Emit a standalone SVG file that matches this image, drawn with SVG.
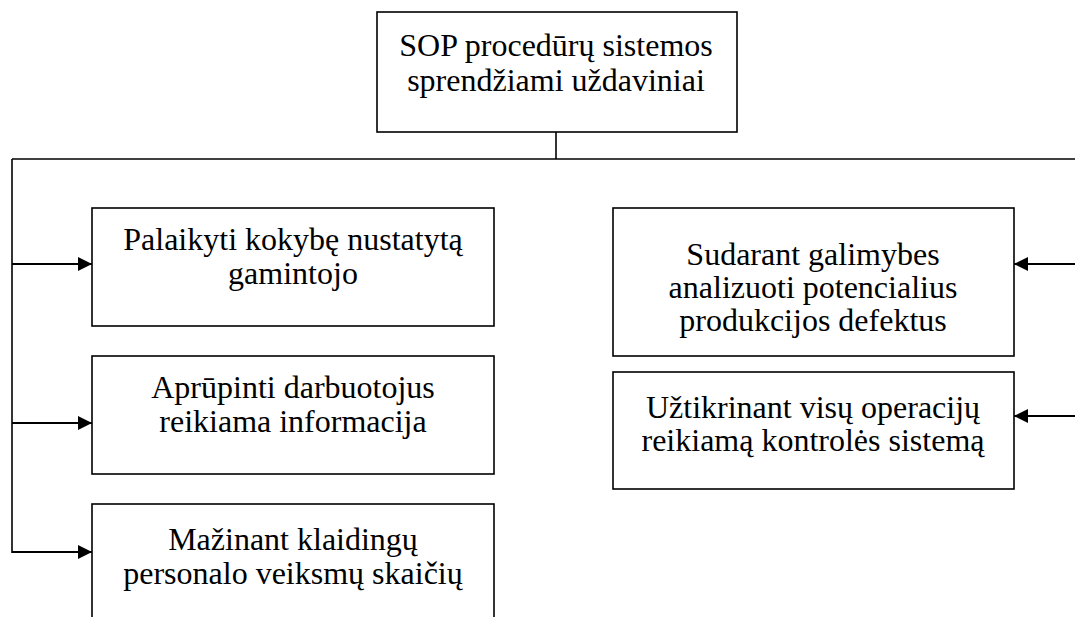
<svg xmlns="http://www.w3.org/2000/svg" width="1075" height="617" viewBox="0 0 1075 617">
  <style>
    .box { fill: #ffffff; stroke: #000000; stroke-width: 1.6; }
    .lbl { font-family: "Liberation Serif", "Times New Roman", serif; font-size: 32px; fill: #000000; text-anchor: middle; }
    .wire { fill: none; stroke: #000000; stroke-width: 1.6; }
    .arr { fill: none; stroke: #000000; stroke-width: 2; }
  </style>
  <defs>
    <marker id="ah" viewBox="0 0 10 10" refX="10" refY="5" markerUnits="userSpaceOnUse" markerWidth="15" markerHeight="14" orient="auto">
      <path d="M0,0 L10,5 L0,10 Z" fill="#000000"/>
    </marker>
  </defs>
  <rect width="1075" height="617" fill="#ffffff"/>

  <g id="connectors">
    <line class="wire" x1="556" y1="132" x2="556" y2="159"/>
    <line class="wire" x1="12" y1="159" x2="1075" y2="159"/>
    <line class="wire" x1="12" y1="159" x2="12" y2="553"/>
    <line class="arr" x1="12" y1="264" x2="92" y2="264" marker-end="url(#ah)"/>
    <line class="arr" x1="12" y1="423" x2="92" y2="423" marker-end="url(#ah)"/>
    <line class="arr" x1="12" y1="552" x2="92" y2="552" marker-end="url(#ah)"/>
    <line class="arr" x1="1075" y1="264" x2="1014" y2="264" marker-end="url(#ah)"/>
    <line class="arr" x1="1075" y1="416" x2="1014" y2="416" marker-end="url(#ah)"/>
  </g>

  <g id="node-root">
    <rect class="box" x="377" y="12" width="360" height="120"/>
    <text class="lbl" x="556" y="56">SOP procedūrų sistemos</text>
    <text class="lbl" x="556" y="91">sprendžiami uždaviniai</text>
  </g>

  <g id="node-palaikyti">
    <rect class="box" x="92" y="208" width="402" height="118"/>
    <text class="lbl" x="293" y="250">Palaikyti kokybę nustatytą</text>
    <text class="lbl" x="293" y="284">gamintojo</text>
  </g>

  <g id="node-aprupinti">
    <rect class="box" x="92" y="356" width="402" height="118"/>
    <text class="lbl" x="293" y="398">Aprūpinti darbuotojus</text>
    <text class="lbl" x="293" y="432">reikiama informacija</text>
  </g>

  <g id="node-mazinant">
    <rect class="box" x="92" y="504" width="402" height="150"/>
    <text class="lbl" x="293" y="550">Mažinant klaidingų</text>
    <text class="lbl" x="293" y="584">personalo veiksmų skaičių</text>
  </g>

  <g id="node-sudarant">
    <rect class="box" x="613" y="208" width="401" height="148"/>
    <text class="lbl" x="813" y="265">Sudarant galimybes</text>
    <text class="lbl" x="813" y="298">analizuoti potencialius</text>
    <text class="lbl" x="813" y="331">produkcijos defektus</text>
  </g>

  <g id="node-uztikrinant">
    <rect class="box" x="613" y="372" width="401" height="117"/>
    <text class="lbl" x="813" y="418">Užtikrinant visų operacijų</text>
    <text class="lbl" x="813" y="451">reikiamą kontrolės sistemą</text>
  </g>
</svg>
